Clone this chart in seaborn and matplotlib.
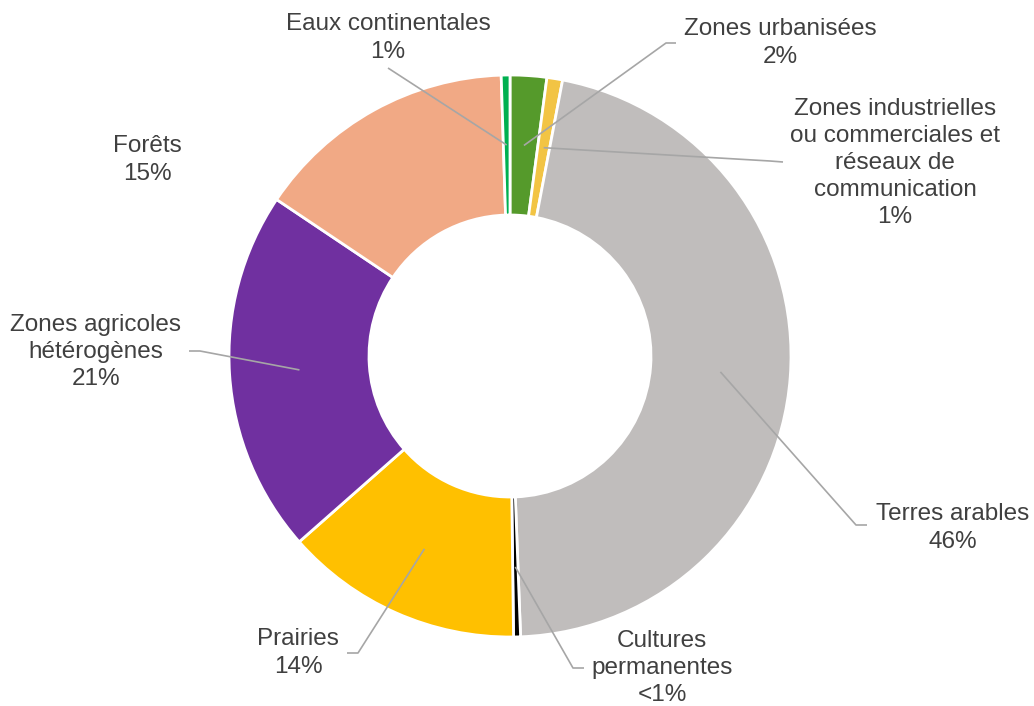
import numpy as np
import matplotlib
matplotlib.use("Agg")
import matplotlib.pyplot as plt
import seaborn as sns

# ---- data (clockwise from 12 o'clock) ----
categories = [
    "Zones urbanisées",
    "Zones industrielles\nou commerciales et\nréseaux de\ncommunication",
    "Terres arables",
    "Cultures\npermanentes",
    "Prairies",
    "Zones agricoles\nhétérogènes",
    "Forêts",
    "Eaux continentales",
]
values = [2.1, 0.9, 46.4, 0.4, 13.7, 20.9, 15.1, 0.5]
pct_labels = ["2%", "1%", "46%", "<1%", "14%", "21%", "15%", "1%"]
colors = ["#559A2B", "#F2C444", "#C0BDBC", "#000000", "#FFC000",
          "#7030A0", "#F1A985", "#00B050"]

sns.set_theme(style="white")
plt.rcParams["font.family"] = ["Liberation Sans", "DejaVu Sans"]

W, H = 1034, 706
fig = plt.figure(figsize=(W / 100, H / 100), dpi=100)
ax = fig.add_axes([0, 0, 1, 1])

cx, cy = 510, 356
R_out, R_in = 281, 141

def Y(y):
    return H - y

wedges, _ = ax.pie(values, colors=colors, startangle=90, counterclock=False,
                   radius=R_out, center=(cx, Y(cy)),
                   wedgeprops=dict(width=R_out - R_in, edgecolor="white",
                                   linewidth=2))
ax.set_xlim(0, W)
ax.set_ylim(0, H)
ax.set_aspect("equal")
ax.axis("off")

# label placement (text centre in image px) and leader line elbow points
text_pos = [(780, 43), (895, 163), (953, 528), (662, 668),
            (298, 653), (96, 352), (147, 160), (388, 38)]
elbows = [
    [(676, 43), (666, 43)],
    [(783, 162), (770, 161)],
    [(867, 525), (856, 525)],
    [(584, 668), (573, 668)],
    [(347, 653), (358, 653)],
    [(189, 351), (200, 351)],
    None,
    [(388, 68)],
]

r_mid = (R_out + R_in) / 2
text_color = "#404040"
line_color = "#A6A6A6"
for w, cat, pct, tp, el in zip(wedges, categories, pct_labels, text_pos, elbows):
    ax.text(tp[0], Y(tp[1]), f"{cat}\n{pct}", ha="center", va="center",
            fontsize=17.5, color=text_color, linespacing=1.3)
    if el is None:
        continue
    ang = np.deg2rad((w.theta1 + w.theta2) / 2)
    ax_x = cx + r_mid * np.cos(ang)
    ax_y = Y(cy) + r_mid * np.sin(ang)
    xs = [p[0] for p in el] + [ax_x]
    ys = [Y(p[1]) for p in el] + [ax_y]
    ax.plot(xs, ys, color=line_color, lw=1.2, solid_capstyle="butt")

fig.savefig("out.png", dpi=100)
